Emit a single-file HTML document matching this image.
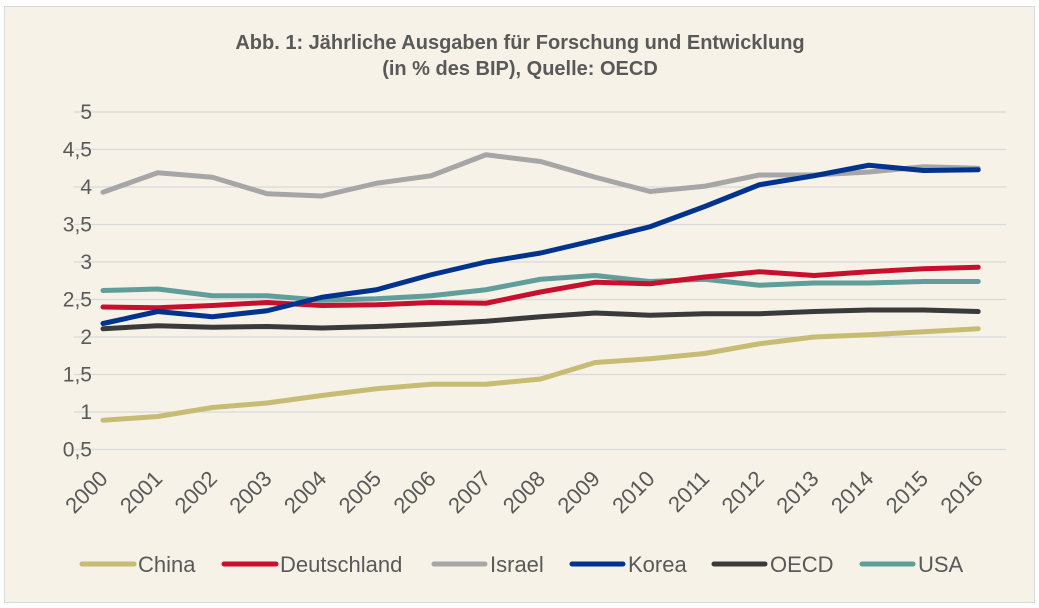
<!DOCTYPE html><html><head><meta charset="utf-8"><style>
body{margin:0;background:#fff}svg{display:block}
text{font-family:"Liberation Sans",sans-serif;fill:#595959}
</style></head><body>
<svg width="1039" height="608" xmlns="http://www.w3.org/2000/svg">
<rect x="4.5" y="6.5" width="1030" height="596" fill="#f6f2e7" stroke="#d9d9d9"/>
<text x="520" y="49" text-anchor="middle" font-size="20" font-weight="bold">Abb. 1: Jährliche Ausgaben für Forschung und Entwicklung</text>
<text x="520" y="75" text-anchor="middle" font-size="20" font-weight="bold">(in % des BIP), Quelle: OECD</text>
<g id="grid" stroke="#d9d9d9" stroke-width="1.3"></g>
<g id="yl" font-size="21" text-anchor="end"></g>
<g id="xl" font-size="22" text-anchor="end"></g>
<g id="lines" fill="none" stroke-width="5" stroke-linejoin="round" stroke-linecap="round"></g>
<g font-size="22">
<line x1="82" y1="564" x2="134" y2="564" stroke="#c7bc74" stroke-width="5" stroke-linecap="round"/><text x="138" y="572">China</text>
<line x1="224" y1="564" x2="276" y2="564" stroke="#c8102e" stroke-width="5" stroke-linecap="round"/><text x="280" y="572">Deutschland</text>
<line x1="434" y1="564" x2="485" y2="564" stroke="#a6a6a6" stroke-width="5" stroke-linecap="round"/><text x="490" y="572">Israel</text>
<line x1="572" y1="564" x2="623" y2="564" stroke="#00338d" stroke-width="5" stroke-linecap="round"/><text x="628" y="572">Korea</text>
<line x1="714" y1="564" x2="765" y2="564" stroke="#3a3a3a" stroke-width="5" stroke-linecap="round"/><text x="770" y="572">OECD</text>
<line x1="862" y1="564" x2="913" y2="564" stroke="#5f9e9a" stroke-width="5" stroke-linecap="round"/><text x="918" y="572">USA</text>
</g>
</svg>
<script>
const ns="http://www.w3.org/2000/svg";
const Y=v=>112+(5-v)*75, X=i=>103+i*54.7;
function el(p,t,a,txt){const e=document.createElementNS(ns,t);for(const k in a)e.setAttribute(k,a[k]);if(txt)e.textContent=txt;document.getElementById(p).appendChild(e);}
for(let v=0.5;v<=5.001;v+=0.5){el("grid","line",{x1:74,x2:1006,y1:Y(v),y2:Y(v)});el("yl","text",{x:92,y:Y(v)+7},String(+v.toFixed(1)).replace(".",","));}
for(let i=0;i<17;i++){const x=X(i)+6,y=480;el("xl","text",{x:x,y:y,transform:`rotate(-45 ${x} ${y})`},String(2000+i));}
const D={
"#a6a6a6":[3.93,4.19,4.13,3.91,3.88,4.05,4.15,4.43,4.34,4.13,3.94,4.01,4.16,4.16,4.20,4.27,4.25],
"#c7bc74":[0.89,0.94,1.06,1.12,1.22,1.31,1.37,1.37,1.44,1.66,1.71,1.78,1.91,2.0,2.03,2.07,2.11],
"#3a3a3a":[2.11,2.15,2.13,2.14,2.12,2.14,2.17,2.21,2.27,2.32,2.29,2.31,2.31,2.34,2.36,2.36,2.34],
"#5f9e9a":[2.62,2.64,2.55,2.55,2.49,2.51,2.55,2.63,2.77,2.82,2.74,2.77,2.69,2.72,2.72,2.74,2.74],
"#c8102e":[2.40,2.39,2.42,2.46,2.42,2.43,2.46,2.45,2.60,2.73,2.71,2.80,2.87,2.82,2.87,2.91,2.93],
"#00338d":[2.18,2.34,2.27,2.35,2.53,2.63,2.83,3.00,3.12,3.29,3.47,3.74,4.03,4.15,4.29,4.22,4.23]};
for(const c in D)el("lines","polyline",{stroke:c,points:D[c].map((v,i)=>X(i)+","+Y(v)).join(" ")});
</script>
</body></html>
